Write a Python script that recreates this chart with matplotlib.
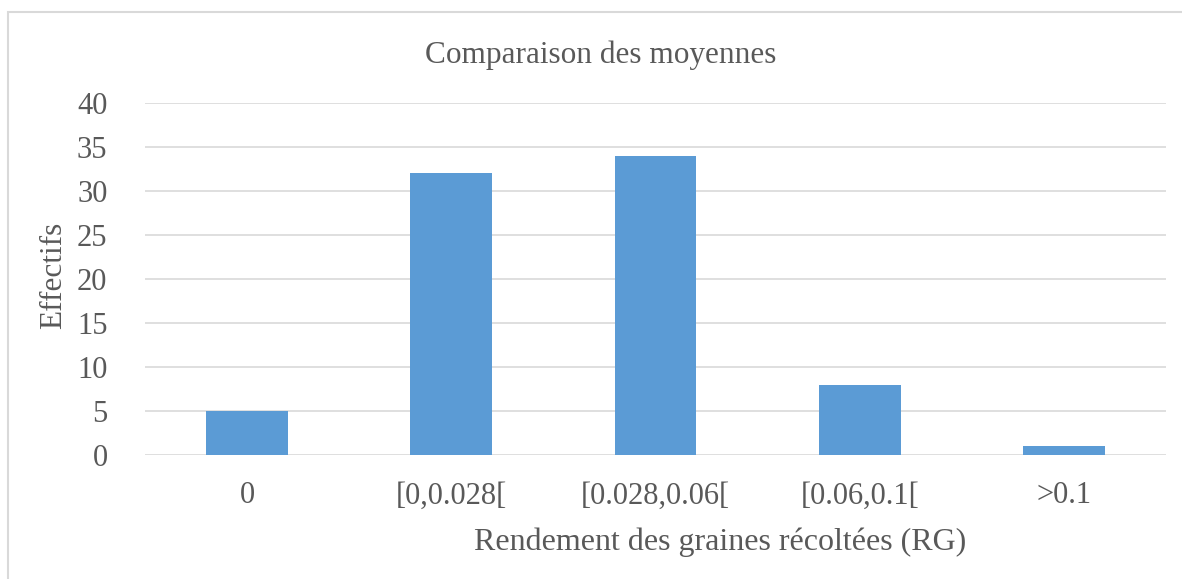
import matplotlib.pyplot as plt
from matplotlib.patches import Rectangle

# Data
categories = ["0", "[0,0.028[", "[0.028,0.06[", "[0.06,0.1[", ">0.1"]
effectifs = [5, 32, 34, 8, 1]
yticks = [0, 5, 10, 15, 20, 25, 30, 35, 40]

plt.rcParams['font.family'] = ['Liberation Serif', 'DejaVu Serif']
text_color = '#595959'

fig = plt.figure(figsize=(11.82, 5.79), dpi=100)
ax = fig.add_axes([145/1182, 1 - 455/579, (1166-145)/1182, (455-103)/579])

# Light grey outer border like the Excel chart area
fig.patches.append(Rectangle((8/1182, -0.1), 1.2, 1 - 12/579 + 0.1,
                             transform=fig.transFigure, fill=False,
                             edgecolor='#D9D9D9', linewidth=1.5))

x = range(len(categories))
ax.bar(x, effectifs, width=0.4, color='#5B9BD5', zorder=3)

ax.set_xlim(-0.5, len(categories) - 0.5)
ax.set_ylim(0, 40)
ax.set_yticks(yticks)
ax.set_xticks(list(x))
ax.set_xticklabels(categories)
ax.grid(axis='y', color='#D9D9D9', linewidth=1.2, zorder=0)
for s in ax.spines.values():
    s.set_visible(False)
ax.tick_params(axis='both', length=0, labelsize=22, colors=text_color)
ax.tick_params(axis='y', pad=27)
ax.tick_params(axis='x', pad=19)

fig.text(601/1182, 1 - 63/579, "Comparaison des moyennes", ha='center', va='baseline',
         fontsize=22.5, color=text_color)
fig.text(720/1182, 1 - 550/579, "Rendement des graines récoltées (RG)", ha='center',
         va='baseline', fontsize=23, color=text_color)
fig.text(54/1182, 1 - 275/579, "Effectifs", ha='center', va='center', rotation=90,
         fontsize=22.5, color=text_color)

plt.savefig('out.png', dpi=100)
